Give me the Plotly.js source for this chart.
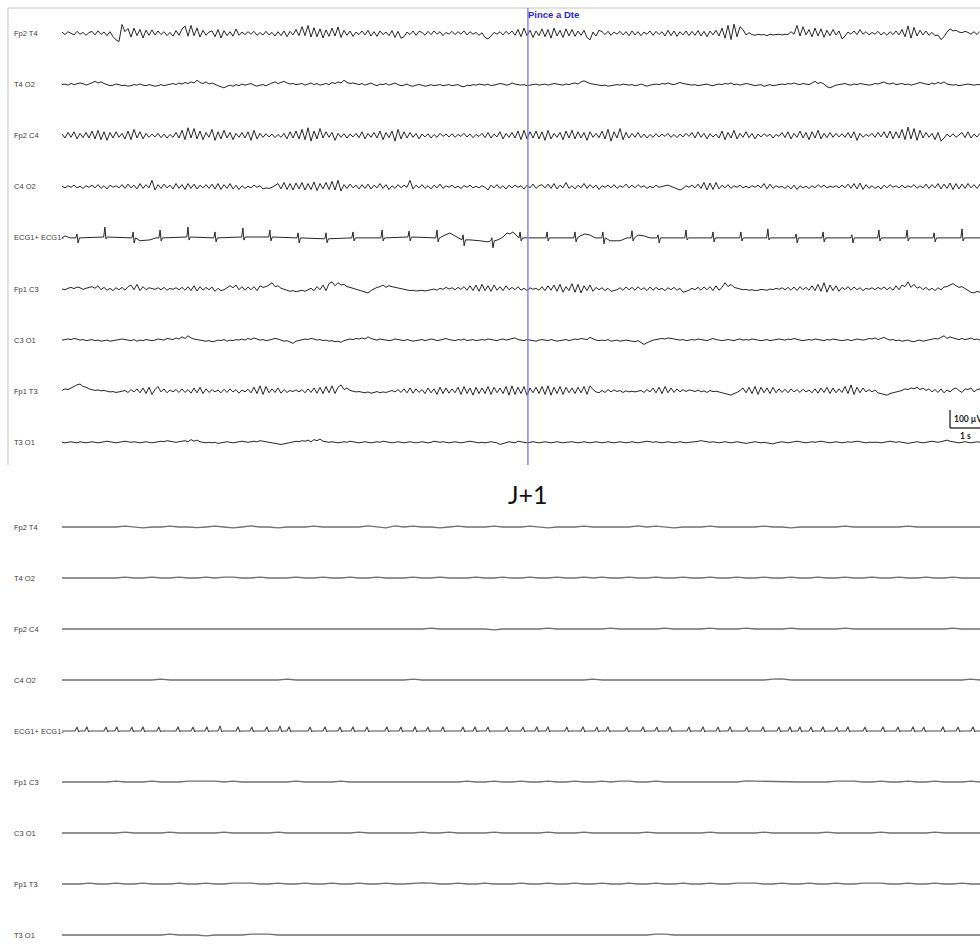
<!DOCTYPE html>
<html><head><meta charset="utf-8">
<script src="https://cdn.plot.ly/plotly-3.0.1.min.js"></script>
<style>html,body{margin:0;padding:0;background:#fff}#chart{width:980px;height:948px}</style>
</head><body><div id="chart"></div>
<script>
// ---------------- DATA ----------------
const channelNames = ['Fp2 T4','T4 O2','Fp2 C4','C4 O2','ECG1+ ECG1-','Fp1 C3','C3 O1','Fp1 T3','T3 O1'];
const panelTitle = 'J+1';
const eventLabel = 'Pince a Dte';
const eventTime = 15.53;           // s
const scaleBarUV = 100;            // µV
const scaleBarS = 1;               // s
const scaleBarUVText = '100 µV';
const scaleBarSText = '1 s';

const dtTop = 0.1;   // s per sample (top panel EEG)
const dtBot = 0.3;   // s per sample (bottom panel EEG)

// top panel EEG, µV, one line per second
const topFp2T4 = [
8,-6,10,2,-8,12,-4,6,-10,5,
12,-8,15,-5,8,-12,10,-18,-35,-45,
50,10,28,-20,30,-12,22,-25,18,-10,
20,-8,14,-6,10,-12,6,-15,16,-10,
25,42,-15,45,-12,30,-20,18,-10,8,
14,-18,22,-25,16,-12,10,-15,25,-10,
8,-6,10,-4,12,-10,5,-8,12,-8,
6,-14,10,-12,14,-18,12,-8,22,-12,
38,-12,45,-20,32,-18,26,-25,20,-16,
30,-14,36,-22,18,-10,14,-16,8,-6,
14,-8,18,-14,10,-16,14,-6,8,-12,
16,-22,12,-26,-18,8,-6,14,-10,12,
6,-10,12,-6,14,-4,10,-12,6,-4,
12,-6,10,-4,14,-8,10,-4,6,-10,
4,-22,-30,-14,6,-4,10,-8,12,-4,
14,-10,22,-18,30,-12,18,-22,14,-12,
26,-18,22,-26,30,-14,18,-22,26,-14,
22,-16,14,-10,18,-22,-35,8,-14,18,
10,-6,12,-10,8,-4,12,-8,10,-12,
14,-8,10,-12,8,-4,14,-10,12,-6,
10,-14,18,-12,14,-16,10,-8,14,-12,
12,-10,16,-14,12,-18,14,-8,18,-14,
30,-26,45,-34,52,-18,38,22,-8,4,
-6,-10,-4,-8,-6,-12,-4,-8,-6,-4,
-8,-4,-6,10,-4,45,-14,38,-8,22,
-18,30,-14,26,-22,18,-12,22,-8,14,
-30,-14,8,-4,14,-6,22,-4,10,-8,
6,-4,12,-8,6,-10,10,-6,14,-8,
22,-18,42,-26,34,-14,18,-8,14,-10,
6,-12,-8,-34,-18,8,26,14,18,8,
4,12,6,-4,10,-6,12,4];

const topT4O2 = [
0,3,-3,6,0,3,9,6,-3,3,
12,18,9,15,6,0,-6,-3,3,0,
-6,-3,-9,-6,0,-3,3,-3,-6,0,
-3,-9,-6,0,-6,-3,3,6,0,9,
3,12,6,15,9,24,12,6,15,3,
9,0,-6,-12,-18,-9,-3,-9,0,-6,
3,-3,0,6,-3,-9,-3,0,-6,3,
9,15,6,12,18,9,3,6,0,3,
6,-3,3,9,0,6,-3,3,6,0,
12,6,15,9,24,12,6,9,3,0,
6,-3,3,9,0,-6,3,0,6,-3,
3,9,0,-6,-3,3,-6,-9,-3,0,
-3,-9,-6,0,-6,-3,0,-6,-3,0,
-6,-3,0,-9,-12,-3,-6,0,-3,3,
0,-3,3,-6,-3,0,6,3,-3,0,
9,3,0,-3,0,-6,-3,0,3,-3,
0,3,-3,0,6,3,0,-3,3,0,
6,9,3,15,21,12,6,3,0,-3,
-6,-3,-9,-6,-3,0,-3,3,0,-3,
0,-6,-3,3,-3,-9,-3,0,3,0,
6,3,9,3,0,6,12,6,3,0,
-3,0,-6,-3,0,3,-3,-6,0,3,
0,6,3,9,0,3,-3,0,6,3,
0,-6,-3,0,-9,-3,0,-6,-3,0,
3,0,6,3,9,3,0,6,3,0,
9,18,6,12,3,-12,-18,-9,-3,0,
3,6,0,-3,3,0,6,3,0,-3,
0,6,3,9,15,6,3,9,0,3,
6,0,3,-3,0,6,12,6,3,0,
9,3,12,6,15,3,0,-3,0,-6,
-3,0,3,0,-3,0,0,0];

const topFp2C4 = [
9,-13,18,-9,22,-18,13,-11,18,-13,
26,-18,30,-22,22,-26,18,-13,22,-9,
13,-18,26,-22,35,-13,22,-18,13,-9,
9,-7,13,-11,9,-13,7,-9,18,-13,
30,-22,44,-13,40,-18,26,-22,18,-9,
35,-26,22,-18,30,-13,18,-22,13,-9,
18,-13,22,-26,30,-18,13,-9,11,-7,
9,-11,7,-9,13,-18,22,-13,26,-18,
35,-22,44,-30,26,-18,40,-13,22,-9,
18,-26,13,-9,11,-13,9,-7,13,-11,
22,-18,13,-9,18,-13,26,-22,18,-11,
26,-30,35,-18,22,-13,18,-9,13,-18,
9,-7,11,-13,7,-9,13,-4,9,-7,
11,-9,7,-4,13,-7,9,-11,7,-4,
13,-11,18,-13,9,-7,22,-18,13,-9,
18,-13,26,-22,30,-18,22,-13,26,-18,
22,-26,30,-18,13,-9,18,-22,26,-13,
30,-18,22,-13,18,-26,22,-9,13,-11,
26,-18,35,-30,22,-13,40,-22,18,-13,
13,-9,18,-11,9,-13,7,-9,11,-7,
9,-4,13,-9,7,-11,9,-7,13,-4,
18,-13,22,-9,13,-18,11,-7,9,-13,
26,-22,18,-13,30,-18,13,-9,22,-11,
13,-18,9,-7,11,-4,9,-13,7,-4,
18,-11,22,-18,13,-9,26,-13,18,-22,
22,-13,30,-18,13,-11,18,-9,13,-7,
11,-9,18,-13,22,-26,13,-9,7,-4,
13,-9,18,-7,22,-13,26,-18,22,-13,
35,-22,48,-18,40,-26,30,-13,18,-9,
13,-22,18,-30,-13,9,-7,11,-9,7,
18,-11,22,-13,9,-7,13,-4];

const topC4O2 = [
3,-6,6,-3,9,-6,3,-9,6,-3,
9,-6,12,-9,6,-12,9,-3,6,-6,
12,-9,15,-6,9,-12,18,-9,12,-6,
36,-18,12,-9,15,-6,9,-12,18,-9,
12,-15,18,-9,15,-12,9,-6,12,-9,
15,-12,18,-15,12,-9,18,-12,9,-15,
6,-9,3,-6,9,-3,6,-12,-6,-9,
-3,6,18,-12,24,-15,18,-18,21,-12,
24,-18,18,-15,27,-21,18,-12,24,-15,
30,-18,36,-24,12,-9,15,-6,9,-12,
12,-9,15,-12,9,-6,18,-9,12,-15,
6,-9,12,-6,9,-3,36,-12,9,-6,
12,-9,6,-12,9,-6,15,-9,6,-3,
9,-6,3,-9,6,-3,9,-6,3,-6,
6,-3,-18,9,-6,12,-9,6,-12,9,
-6,9,-3,6,-12,9,-6,15,-9,6,
12,-6,15,-9,18,-12,9,-6,24,-9,
6,-12,9,-6,18,-9,12,-6,9,-15,
6,-3,9,-6,12,-9,6,-3,15,-6,
9,-6,12,-3,6,-9,3,-6,9,-3,
3,6,9,3,-6,-12,-18,-9,6,-3,
9,-6,15,-9,24,-18,21,-15,24,-12,
9,-6,12,-9,6,-3,9,-6,3,-6,
6,-3,9,-6,18,-12,15,-9,6,-3,
3,-9,6,-12,9,-15,6,-6,3,-9,
6,-6,12,-3,9,-6,3,-3,6,-6,
9,-6,15,-9,18,-12,21,-15,12,-9,
6,-9,3,-12,9,-6,12,-3,6,-6,
9,-6,6,-3,12,-9,6,-6,15,-9,
12,-6,18,-12,15,-9,21,-15,18,-12,
15,-9,18,-6,12,-9,15,-6];

const topFp1C3 = [
0,-4,4,9,2,11,7,-2,4,9,
13,4,18,-4,9,-7,4,-9,7,-4,
9,-7,13,22,-4,26,-9,13,-4,7,
4,-2,7,-4,9,-7,4,-2,7,-4,
9,-7,13,-9,18,-11,13,-7,9,-4,
11,-13,4,-9,-4,9,18,7,22,-4,
13,-7,11,-4,13,-9,18,9,13,22,
35,13,18,4,0,-7,-13,-9,-15,-11,
-7,-13,-4,4,-9,13,-4,22,-9,30,
40,18,35,22,26,13,9,4,0,-4,
-9,-13,-22,-9,0,9,13,22,9,18,
13,9,7,4,0,-4,-9,-7,-11,-9,
-7,-11,-9,-4,0,-7,4,-2,9,0,
7,-4,9,-2,13,-7,18,-9,22,-13,
26,-9,18,-13,22,-7,13,-9,18,-4,
9,-4,13,-7,4,-9,7,-2,4,-7,
13,-9,18,-7,22,-13,26,-18,13,-9,
30,-18,26,-22,18,-9,22,-13,9,-4,
7,-9,4,-13,-9,-4,7,-7,11,-4,
9,-7,13,-4,7,-9,11,-7,9,-4,
4,-9,7,-4,9,-7,4,-18,-13,-7,
4,-4,9,-7,11,-4,13,-9,18,-7,
9,35,13,26,9,4,0,-4,-2,-7,
-4,-9,-7,-2,-4,-7,0,-4,4,-2,
7,-4,9,-7,11,-9,13,-4,9,-7,
18,-9,26,-13,35,-18,22,-9,18,-13,
9,-4,13,-7,11,-4,7,-9,4,-2,
7,-4,9,-2,11,-4,9,-7,18,-4,
22,13,40,9,26,4,13,-4,9,-7,
4,-9,7,-4,11,13,22,30,18,9,
13,4,-9,-18,-22,-13,-18,-9];

const topC3O1 = [
0,3,6,3,9,6,0,3,-3,0,
3,-3,0,-6,-3,0,-6,-3,0,3,
6,3,0,-3,3,-6,0,-3,3,0,
-3,0,6,3,0,9,6,3,12,6,
18,9,24,12,6,3,0,-3,-6,-3,
-9,-6,0,-3,3,-6,0,-3,3,0,
6,0,9,3,12,6,0,3,-3,0,
3,9,6,0,-6,-3,-12,-18,-6,-3,
0,6,3,9,6,0,3,-3,0,-6,
-3,-9,-6,-12,-3,0,6,3,9,6,
12,6,18,9,3,0,6,3,0,-3,
0,6,3,0,-3,3,0,-6,-3,0,
3,-3,0,6,3,-3,0,3,9,3,
0,-3,3,0,6,-3,0,3,-3,0,
3,0,6,3,0,-3,3,6,0,3,
6,12,3,0,-3,3,0,-3,-6,0,
3,0,-3,3,0,-6,-3,0,3,-3,
0,6,3,9,6,3,15,6,0,-3,
0,-3,3,-6,-3,0,-6,-3,0,-3,
-6,-9,-3,-12,-24,-15,-6,0,3,6,
9,6,12,9,6,3,0,3,-3,0,
3,0,6,3,0,-3,3,9,3,0,
-3,0,3,0,-3,3,6,0,3,0,
6,3,0,-3,0,3,-3,0,3,6,
3,0,6,3,9,3,0,-3,0,3,
0,6,3,0,-3,3,0,6,3,0,
-3,0,3,-3,0,6,3,0,3,9,
6,12,3,9,15,6,0,3,-3,0,
-6,-3,0,-6,-9,-3,0,-6,-3,0,
3,9,6,15,24,9,18,12,6,3,
9,3,6,12,3,6,0,3];

const topFp1T3 = [
4,13,9,18,26,35,40,26,22,13,
9,4,7,2,4,0,-4,-2,-7,-4,
-2,4,-7,9,-4,13,-9,18,-13,22,
-18,9,26,-4,13,-9,7,-4,9,-7,
13,-7,9,-11,18,-9,22,-13,13,-7,
9,-4,7,-9,11,-7,13,-4,9,-11,
7,-4,11,-9,22,-13,30,-18,26,-9,
13,-7,18,-11,9,-7,4,-2,7,-4,
9,-9,13,-7,18,-11,22,-13,26,-9,
30,-13,22,35,9,18,4,0,-4,-2,
-7,-9,-4,-11,-7,-2,-9,-4,-7,-2,
4,-4,9,-7,13,-9,18,-11,13,-7,
9,-13,18,-9,13,-18,22,-13,18,-11,
13,-9,22,-18,26,-13,18,-22,22,-13,
18,-13,26,-18,22,-9,18,-13,26,-22,
30,-18,22,-13,26,-22,18,-9,22,-13,
26,-18,30,-22,22,-13,26,-18,22,-9,
18,-13,22,-9,26,-18,30,9,-4,-9,
4,-7,9,-4,7,-2,4,-7,2,-4,
0,-4,-2,4,-7,9,-4,18,-9,22,
-13,26,-9,18,-7,13,-4,9,-2,7,
4,-2,7,-4,2,-7,4,-2,0,-4,
-9,-13,-18,-22,-13,-7,4,18,-9,22,
-13,26,-18,22,-9,18,-13,22,-9,13,
-7,11,-9,13,-4,9,-7,11,-4,7,
-9,13,-11,18,-7,22,-13,18,-9,13,
-7,26,-13,35,-18,22,-9,18,-4,9,
-4,7,-9,-13,-18,-22,-13,-9,-4,0,
4,13,9,18,13,22,9,18,4,13,
-4,9,-7,13,-9,7,-4,11,18,4,
-7,13,9,18,-4,9,13,4];

const topT3O1 = [
0,-3,0,3,0,-3,3,0,-3,0,
3,0,-3,0,3,6,3,0,-3,0,
3,6,3,0,3,0,-3,0,3,0,
-3,0,3,6,3,9,6,3,0,3,
6,9,3,15,6,12,3,0,-3,0,
-3,0,-6,-3,0,3,0,-3,0,3,
6,3,0,3,6,3,9,6,3,0,
-3,-6,-9,-12,-9,-6,0,3,6,3,
9,6,12,3,15,9,18,6,3,0,
3,0,-3,0,3,0,6,3,0,-3,
0,3,0,-3,0,3,0,6,3,0,
-3,0,3,0,-3,0,3,0,-3,0,
3,0,-3,0,6,3,0,3,0,-3,
0,3,0,-3,0,3,6,3,0,-3,
0,-3,0,3,0,-3,-12,-6,0,3,
0,-3,6,3,0,-3,0,3,0,-3,
0,3,0,-3,0,3,0,-3,0,3,
3,0,-3,0,3,0,-3,0,3,0,
-3,0,3,0,-3,0,3,0,-3,0,
3,0,-3,0,3,6,3,0,3,0,
-3,0,3,0,-3,0,3,0,-3,0,
0,3,6,9,6,3,0,3,0,-3,
0,3,0,-3,0,3,0,-3,-6,-3,
0,3,0,-3,0,-3,-6,-9,-3,0,
3,0,-3,0,3,6,3,0,-3,0,
3,0,3,6,3,0,-3,0,3,0,
-3,0,3,0,3,6,3,0,-3,0,
0,3,0,-3,0,3,6,3,0,3,
0,-3,-6,-3,0,3,0,-3,0,3,
6,3,0,3,9,12,6,3,0,-3,
0,3,0,-3,0,3,0,0];

// top panel ECG: beat times (s), baseline at beat (µV), R height (µV), S depth (µV)
const ecgTopBeats = [0.5,1.43,2.37,3.27,4.2,5.1,6.03,6.93,7.87,8.8,9.7,10.67,11.57,12.5,13.37,14.33,15.27,16.17,17.1,18.03,19.0,19.87,20.8,21.7,22.63,23.53,24.47,25.37,26.33,27.23,28.17,29.07,30.0];
const ecgTopBase  = [0,5,0,0,5,0,5,5,0,-5,0,0,5,0,-11,-16,0,0,0,0,0,0,0,0,0,0,0,0,0,0,0,0,0];
const ecgTopR     = [22,55,33,44,55,33,50,39,28,33,33,44,33,44,28,17,33,33,33,33,39,17,44,33,33,50,22,33,17,44,44,28,50];
const ecgTopS     = [28,11,28,17,17,22,17,22,28,22,17,17,22,22,33,39,17,17,22,33,17,28,11,22,17,11,28,22,28,17,17,22,17];
// slow waves / baseline shifts between beats: time (s), value (µV)
const ecgTopWaveT = [0,0.1,0.27,2.6,2.93,3.13,12.77,12.93,13.1,13.27,13.6,13.93,14.2,14.53,14.7,14.83,14.93,15.03,15.13,17.27,17.43,17.6,17.77,18.27,18.6,18.83,19.2,19.4,19.6,30.6];
const ecgTopWaveV = [0,11,0,-16,-11,0,16,27,11,-5,-11,-16,-22,-11,5,27,22,33,16,11,22,16,0,-16,-16,0,16,11,0,0];
// QRS shape: [time offset (s), ×R, ×S]
const qrsTop = [[-0.04,0,0],[0,1,0],[0.035,0,-1],[0.08,0,0]];

// bottom panel (J+1)
const botFp2T4 = [0,0,0,0,0,0,0,5,0,-5,0,0,5,0,0,-4,0,5,0,-5,0,6,0,0,-5,0,0,0,5,0,
0,0,0,0,6,0,-5,6,0,5,0,0,-5,0,5,0,0,0,5,0,0,0,5,0,-5,0,0,0,5,0,
0,0,0,0,6,0,5,0,-5,0,0,0,5,0,0,0,0,0,5,0,0,-5,0,0,0,0,0,5,0,0,
0,0,0,0,5,0,0,0,0,0,0,0,0];
const botT4O2 = [0,0,0,0,0,0,0,5,0,0,5,0,0,5,0,0,5,0,5,5,0,0,5,0,0,0,5,0,0,5,
0,0,5,0,0,5,0,0,0,5,0,0,5,0,0,0,5,0,0,5,0,0,5,0,0,5,0,0,5,0,
5,0,0,5,0,0,5,0,0,5,0,0,5,0,0,5,0,0,5,0,0,5,0,0,5,0,0,5,0,0,
5,0,0,5,0,0,5,0,0,5,0,0,0];
const botFp2C4 = [0,0,0,0,0,0,0,0,0,0,0,0,0,0,0,0,0,0,0,0,0,0,0,0,0,0,0,0,0,0,
0,0,0,0,0,0,0,0,0,0,0,5,0,0,0,0,0,0,-5,0,0,0,0,0,5,0,0,0,0,0,
0,5,0,0,0,0,0,5,0,0,0,0,5,0,0,0,5,0,0,0,0,5,0,0,0,0,0,5,0,0,
0,0,0,0,0,0,0,0,0,5,0,0,0];
const botC4O2 = [0,0,0,0,0,0,0,0,0,0,0,5,0,0,0,0,0,0,0,0,0,0,0,0,0,5,0,0,0,0,
0,0,0,0,0,0,0,0,0,5,0,0,0,0,0,0,0,0,0,0,0,0,0,0,0,0,0,0,0,5,
0,0,0,0,0,0,0,0,0,0,0,0,0,0,0,0,0,0,0,5,6,0,0,0,0,0,0,0,0,0,
0,0,0,0,0,0,0,0,0,0,0,5,0];
const botFp1C3 = [0,0,0,0,0,0,5,0,0,0,5,0,0,0,5,6,5,5,0,5,0,0,0,0,0,0,5,0,0,0,
0,5,0,0,0,0,0,0,0,0,0,0,0,0,0,5,0,0,5,0,0,5,0,0,5,0,0,5,0,0,
5,0,5,5,0,0,5,0,0,0,0,0,0,0,0,0,6,5,0,0,0,0,0,0,0,0,5,6,5,0,
0,5,0,0,5,0,0,5,0,0,0,5,0];
const botC3O1 = [0,0,0,0,0,0,0,5,0,0,0,0,5,0,0,0,0,0,5,0,0,0,0,0,5,0,0,0,0,0,
0,0,0,5,0,0,0,0,0,0,5,0,0,5,0,0,0,0,5,0,0,0,0,0,5,0,0,0,5,0,
0,0,0,0,0,5,0,0,0,0,0,0,5,0,0,0,0,0,5,0,0,0,0,0,0,5,0,0,0,0,
0,5,0,0,0,0,0,5,0,0,0,0,0];
const botFp1T3 = [0,0,0,5,0,0,5,0,0,5,0,0,0,5,0,0,5,0,0,5,6,5,0,0,5,0,0,5,0,0,
5,0,0,5,0,0,5,0,0,5,6,5,0,0,5,0,0,5,0,0,0,5,0,0,5,0,0,5,0,0,
5,0,0,5,0,0,5,0,0,5,0,0,5,0,0,5,5,5,0,0,5,0,0,5,0,0,5,0,0,5,
5,5,0,0,5,0,0,5,0,0,5,0,0];
const botT3O1 = [0,0,0,0,0,0,0,0,0,0,0,0,5,0,0,0,-5,0,0,0,0,5,5,5,0,0,0,0,0,0,
0,0,0,0,0,0,0,0,0,0,0,0,0,0,0,0,0,0,0,0,0,0,0,0,0,0,0,0,0,0,
0,0,0,0,0,0,5,5,0,0,0,0,0,0,0,0,0,0,0,0,0,0,0,0,0,0,0,0,0,0,
0,0,0,0,0,0,0,0,0,0,0,0,0];

const ecgBotBeats = [0.5,0.83,1.47,1.83,2.33,2.7,3.23,3.87,4.37,4.83,5.27,5.87,6.33,6.83,7.27,7.57,8.27,8.77,9.27,9.7,10.17,10.83,11.3,11.77,12.2,12.7,13.37,13.77,14.2,14.83,15.37,15.83,16.2,16.83,17.37,17.83,18.2,18.83,19.37,19.83,20.27,20.9,21.37,21.87,22.27,22.83,23.37,23.9,24.27,24.6,24.97,25.37,25.83,26.2,26.77,27.37,27.87,28.37,28.73,29.37,29.87,30.37];
const ecgBotR = [22,24,22,24,22,24,22,24,22,24,28,24,22,24,28,24,22,24,22,24,22,24,22,24,22,24,22,24,22,24,22,24,24,22,24,22,24,22,24,22,24,22,24,22,24,22,24,22,24,24,22,24,22,24,22,24,22,24,22,24,22,24];
const ecgBotWaveT = [0,30.6];
const ecgBotWaveV = [0,0];
const qrsBot = [[-0.07,0,0],[0,1,0],[0.05,-0.12,0],[0.1,0,0]];

// ---------------- LAYOUT GEOMETRY ----------------
const W = 980, H = 948;
const UV_PER_PX = 100/18;
const X0PX = 62, PX_PER_S = 30;
const xMax = (W - X0PX) / PX_PER_S;
const TOP = {pxTop: 8, pxBot: 467, c0: 33.5, sp: 51.1};
const BOT = {pxTop: 500, pxBot: 948, c0: 527, sp: 51};
const yRange = p => [(p.c0 - p.pxBot) * UV_PER_PX, (p.c0 - p.pxTop) * UV_PER_PX];
const yDomain = p => [1 - p.pxBot / H, 1 - p.pxTop / H];
const offset = (p, i) => -i * p.sp * UV_PER_PX;

const traces = [];
function addSampled(vals, dt, p, i, yaxis, color, width) {
  const off = offset(p, i), x = [], y = [];
  vals.forEach((v, k) => { x.push(k * dt); y.push(v + off); });
  traces.push({type: 'scatter', mode: 'lines', x, y, xaxis: 'x', yaxis, line: {color, width}, hoverinfo: 'skip'});
}
function addEcg(beats, base, R, S, tmpl, wT, wV, p, i, yaxis, color, width) {
  const off = offset(p, i), pts = [];
  beats.forEach((t, k) => tmpl.forEach(([d, a, b]) =>
    pts.push([t + d, (base ? base[k] : 0) + a * R[k] + b * (S ? S[k] : 0)])));
  wT.forEach((t, k) => pts.push([t, wV[k]]));
  pts.sort((a, b) => a[0] - b[0]);
  traces.push({type: 'scatter', mode: 'lines', x: pts.map(q => q[0]), y: pts.map(q => q[1] + off),
    xaxis: 'x', yaxis, line: {color, width}, hoverinfo: 'skip'});
}

const topCol = '#262626', botCol = '#707070';
const topEEG = [topFp2T4, topT4O2, topFp2C4, topC4O2, null, topFp1C3, topC3O1, topFp1T3, topT3O1];
const botEEG = [botFp2T4, botT4O2, botFp2C4, botC4O2, null, botFp1C3, botC3O1, botFp1T3, botT3O1];
topEEG.forEach((v, i) => { if (v) addSampled(v, dtTop, TOP, i, 'y', topCol, 1); });
addEcg(ecgTopBeats, ecgTopBase, ecgTopR, ecgTopS, qrsTop, ecgTopWaveT, ecgTopWaveV, TOP, 4, 'y', topCol, 1);
botEEG.forEach((v, i) => { if (v) addSampled(v, dtBot, BOT, i, 'y2', botCol, 1.3); });
addEcg(ecgBotBeats, null, ecgBotR, null, qrsBot, ecgBotWaveT, ecgBotWaveV, BOT, 4, 'y2', '#4a4a4a', 1.1);

const annotations = [];
const labelFont = {family: 'Liberation Sans, Arial, sans-serif', size: 7.5, color: '#3c3c3c'};
[[TOP, 'y'], [BOT, 'y2']].forEach(([p, ax]) => channelNames.forEach((name, i) => annotations.push({
  text: name, xref: 'paper', x: 12 / W, xanchor: 'left', yref: ax, y: offset(p, i), yanchor: 'middle',
  showarrow: false, font: labelFont
})));
annotations.push({text: '<b>' + eventLabel + '</b>', xref: 'x', x: eventTime, xanchor: 'left', xshift: -2,
  yref: 'y domain', y: 1, yanchor: 'top', yshift: 1, showarrow: false,
  font: {family: 'Liberation Sans, Arial, sans-serif', size: 9.5, color: '#1f1fff'}});
annotations.push({text: panelTitle, xref: 'x', x: eventTime, xanchor: 'center',
  yref: 'paper', y: 1 - 494 / H, yanchor: 'middle', showarrow: false,
  font: {family: 'Lato, Open Sans, sans-serif', size: 25, color: '#111'}});
const scaleBase = (TOP.c0 - 428) * UV_PER_PX;
annotations.push({text: '<b>' + scaleBarUVText + '</b>', xref: 'x', x: xMax - scaleBarS, xanchor: 'left', xshift: 2,
  yref: 'y', y: scaleBase + scaleBarUV / 2, yanchor: 'middle', showarrow: false,
  font: {family: 'Lato, sans-serif', size: 8.5, color: '#222'}});
annotations.push({text: '<b>' + scaleBarSText + '</b>', xref: 'x', x: xMax - scaleBarS / 2, xanchor: 'center',
  yref: 'y', y: scaleBase, yanchor: 'top', yshift: -1, showarrow: false,
  font: {family: 'Lato, sans-serif', size: 8.5, color: '#222'}});

const shapes = [
  {type: 'line', xref: 'paper', yref: 'paper', x0: 8 / W, x1: 1, y0: 1 - 8 / H, y1: 1 - 8 / H, line: {color: '#c4c4c4', width: 1}},
  {type: 'line', xref: 'paper', yref: 'paper', x0: 8 / W, x1: 8 / W, y0: 1 - 465 / H, y1: 1 - 8 / H, line: {color: '#c4c4c4', width: 1}},
  {type: 'line', xref: 'x', yref: 'y domain', x0: eventTime, x1: eventTime, y0: 0.004, y1: 1, line: {color: '#7d7dff', width: 1.4}},
  {type: 'line', xref: 'x', yref: 'y', x0: xMax - scaleBarS, x1: xMax - scaleBarS, y0: scaleBase, y1: scaleBase + scaleBarUV, line: {color: '#222', width: 1.3}},
  {type: 'line', xref: 'x', yref: 'y', x0: xMax - scaleBarS, x1: xMax, y0: scaleBase, y1: scaleBase, line: {color: '#222', width: 1.3}}
];

const layout = {
  width: W, height: H, margin: {l: 0, r: 0, t: 0, b: 0},
  paper_bgcolor: '#fff', plot_bgcolor: 'rgba(0,0,0,0)', showlegend: false,
  xaxis: {domain: [X0PX / W, 1], range: [0, xMax], visible: false, anchor: 'y', fixedrange: true},
  yaxis: {domain: yDomain(TOP), range: yRange(TOP), visible: false, anchor: 'x', fixedrange: true},
  yaxis2: {domain: yDomain(BOT), range: yRange(BOT), visible: false, anchor: 'x', fixedrange: true},
  annotations, shapes
};
Plotly.newPlot('chart', traces, layout, {staticPlot: true, displayModeBar: false});
</script></body></html>
